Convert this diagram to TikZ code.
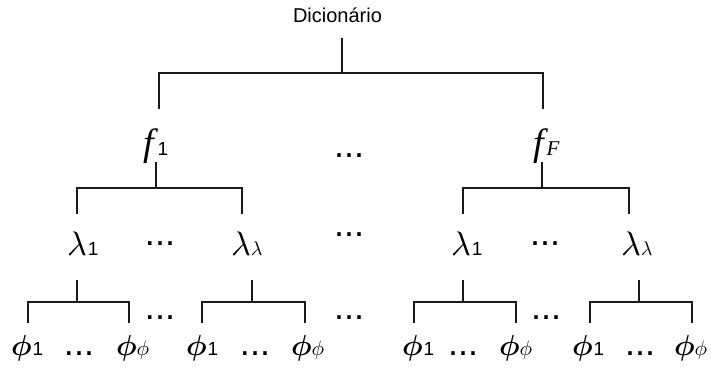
\documentclass[tikz,border=0pt]{standalone}
\usepackage{graphicx}
\usepackage{fontspec}
\setmainfont{Liberation Sans}
\newfontfamily\lserif{Liberation Serif}

% glyph helpers for the tree labels (math glyphs are scaled from 10pt)
\newcommand\Bigf{{\fontsize{38}{38}\selectfont\lserif\itshape f}}
\newcommand\subF{{\fontsize{21}{21}\selectfont\lserif\itshape F}}
\newcommand\subone{{\fontsize{19}{19}\selectfont 1}}
\newcommand\Lam{\scalebox{3.4}{$\lambda$}}
\newcommand\sublam{\scalebox{2.0}{$\lambda$}}
\newcommand\Phy{\scalebox{2.9}{\boldmath$\phi$}}
\newcommand\subphy{\scalebox{2.1}{$\phi$}}

% one bracket: stem from (#2,#3) down to the bar at #4, legs at #5 and #6 down to #7
\newcommand\fork[7]{%
  \coordinate (#1-top) at (#2,#3);
  \coordinate (#1-mid) at (#2,#4);
  \coordinate (#1-left) at (#5,#7);
  \coordinate (#1-right) at (#6,#7);
  \draw[tree] (#1-top) -- (#1-mid);
  \draw[tree] (#1-left) |- (#1-mid) -| (#1-right);
}

\tikzset{
  tree/.style={line width=1.5pt, line join=miter, draw=black!90},
  lbl/.style={inner sep=0pt, outer sep=0pt, anchor=base west},
  dotsnode/.style={inner sep=0pt, outer sep=0pt, font=\fontsize{36}{36}\selectfont}
}

\begin{document}
\begin{tikzpicture}[x=1pt, y=-1pt]
\useasboundingbox (0,0) rectangle (713,369);

% root
\node[lbl, font=\fontsize{20}{20}\selectfont] (dic) at (293,23) {Dicionário};

% feature level
\node[lbl] (f1) at (143,156) {\Bigf\kern4pt\subone};
\node[lbl] (fF) at (533,156) {\Bigf\kern3pt\subF};
\node[dotsnode] (d-f) at (349,156) {...};

% lambda level
\node[lbl] (la1) at (67,255) {\Lam\kern1pt\subone};
\node[lbl] (laL) at (231,255) {\Lam\sublam};
\node[lbl] (lb1) at (451,255) {\Lam\kern1pt\subone};
\node[lbl] (lbL) at (621,255) {\Lam\sublam};
\node[dotsnode] (d-la) at (160,244) {...};
\node[dotsnode] (d-l) at (349,235) {...};
\node[dotsnode] (d-lb) at (545,244) {...};

% phi level
\node[lbl] (p11) at (11,355) {\Phy\kern1pt\subone};
\node[lbl] (p1F) at (116,355) {\Phy\subphy};
\node[lbl] (p21) at (186,355) {\Phy\kern1pt\subone};
\node[lbl] (p2F) at (291,355) {\Phy\subphy};
\node[lbl] (p31) at (402,355) {\Phy\kern1pt\subone};
\node[lbl] (p3F) at (499,355) {\Phy\subphy};
\node[lbl] (p41) at (572,355) {\Phy\kern1pt\subone};
\node[lbl] (p4F) at (674,355) {\Phy\subphy};
\node[dotsnode] (d-p1) at (79,354) {...};
\node[dotsnode] (d-p2) at (255,354) {...};
\node[dotsnode] (d-p3) at (463,354) {...};
\node[dotsnode] (d-p4) at (640,354) {...};
\node[dotsnode] (d-pa) at (160,318) {...};
\node[dotsnode] (d-pm) at (349,318) {...};
\node[dotsnode] (d-pb) at (546,318) {...};

% brackets
\fork{root}{342}{38}{73}{159}{543}{109}
\fork{fa}{156}{162}{188}{77}{242}{214}
\fork{fb}{542}{162}{188}{463}{629}{214}
\fork{ga}{77}{280}{302}{28}{129}{323}
\fork{gb}{252}{280}{302}{202}{305}{323}
\fork{gc}{463}{280}{302}{414}{516}{323}
\fork{gd}{639}{280}{302}{590}{692}{323}
\end{tikzpicture}
\end{document}
